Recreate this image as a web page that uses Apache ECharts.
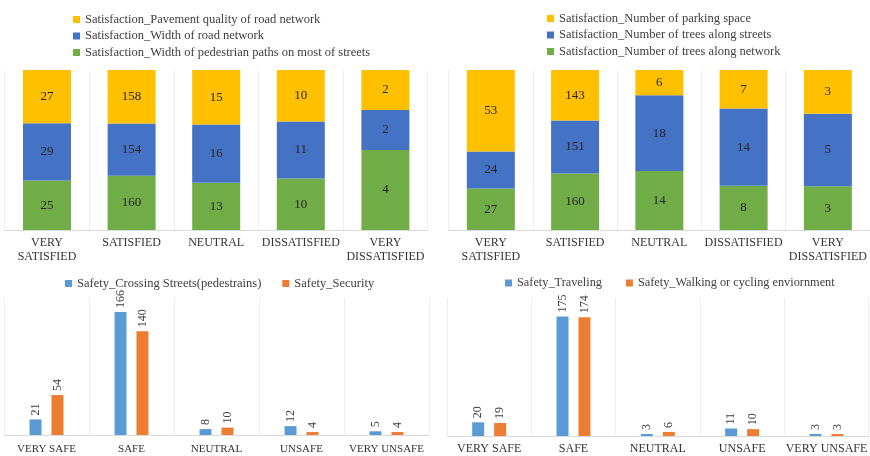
<!DOCTYPE html>
<html><head><meta charset="utf-8">
<script src="https://cdn.jsdelivr.net/npm/echarts@6/dist/echarts.min.js"></script>
<style>html,body{margin:0;padding:0;background:#fff}#c{width:870px;height:456px}</style>
</head><body><div id="c"></div>
<script>
const satCategories = ['VERY\nSATISFIED','SATISFIED','NEUTRAL','DISSATISFIED','VERY\nDISSATISFIED'];
const safeCategories = ['VERY SAFE','SAFE','NEUTRAL','UNSAFE','VERY UNSAFE'];
const pavementQuality = [27,158,15,10,2];
const roadWidth = [29,154,16,11,2];
const pedestrianWidth = [25,160,13,10,4];
const parkingSpace = [53,143,6,7,3];
const treesStreets = [24,151,18,14,5];
const treesNetwork = [27,160,14,8,3];
const crossingStreets = [21,166,8,12,5];
const security = [54,140,10,4,4];
const traveling = [20,175,3,11,3];
const walkingCycling = [19,174,6,10,3];

const FONT = "'Liberation Serif','Times New Roman',serif";
const YEL = '#FFC000', BLU = '#4472C4', GRN = '#70AD47', LBLU = '#5B9BD5', ORG = '#ED7D31';

function pct(arr, group) {
  return arr.map((v, i) => {
    const tot = group.reduce((s, g) => s + g[i], 0);
    return { value: v / tot * 100, raw: v };
  });
}
function stackSeries(name, arr, group, color, idx, stack) {
  return {
    name, type: 'bar', stack, xAxisIndex: idx, yAxisIndex: idx,
    data: pct(arr, group), barWidth: 48, itemStyle: { color },
    label: { show: true, position: 'inside', color: '#262626', fontFamily: FONT, fontSize: 13,
      formatter: p => p.data.raw }
  };
}
function barSeries(name, arr, color, idx) {
  return {
    name, type: 'bar', xAxisIndex: idx, yAxisIndex: idx, data: arr,
    barWidth: 12, barGap: '83%', itemStyle: { color },
    label: { show: true, position: 'top', rotate: 90, align: 'left', verticalAlign: 'middle',
      distance: 4, color: '#404040', fontFamily: FONT, fontSize: 12 }
  };
}
function xAx(idx, data, margin, fs) {
  return {
    type: 'category', gridIndex: idx, data,
    axisTick: { show: false },
    axisLine: { lineStyle: { color: '#d9d9d9' } },
    splitLine: { show: true, lineStyle: { color: '#eeeeee' } },
    axisLabel: { interval: 0, fontFamily: FONT, fontSize: fs, color: '#333333', lineHeight: 14, margin }
  };
}
function yAx(idx, max) {
  return { type: 'value', gridIndex: idx, min: 0, max, show: false, splitLine: { show: false } };
}
const g1 = [pedestrianWidth, roadWidth, pavementQuality];
const g2 = [treesNetwork, treesStreets, parkingSpace];
const legText = { fontFamily: FONT, fontSize: 12.5, color: '#404040' };
const legText2 = { fontFamily: FONT, fontSize: 12.3, color: '#404040' };

const option = {
  animation: false,
  backgroundColor: '#fff',
  grid: [
    { left: 4.7, top: 70, width: 423, height: 160 },
    { left: 448.7, top: 70, width: 423, height: 160 },
    { left: 4, top: 298, width: 425, height: 137.5 },
    { left: 447, top: 298, width: 425, height: 141 }
  ],
  xAxis: [xAx(0, satCategories, 6, 12), xAx(1, satCategories, 6, 12), xAx(2, safeCategories, 7, 11), xAx(3, safeCategories, 6, 12)],
  yAxis: [yAx(0, 100), yAx(1, 100), yAx(2, 185), yAx(3, 202)],
  legend: [
    { orient: 'vertical', left: 68, top: 8, itemWidth: 7, itemHeight: 7, itemGap: 3.5, icon: 'rect', textStyle: legText,
      data: ['Satisfaction_Pavement quality of road network', 'Satisfaction_Width of road network', 'Satisfaction_Width of pedestrian paths on most of streets'] },
    { orient: 'vertical', left: 542, top: 7, itemWidth: 7, itemHeight: 7, itemGap: 3.5, icon: 'rect', textStyle: legText,
      data: ['Satisfaction_Number of parking space', 'Satisfaction_Number of trees along streets', 'Satisfaction_Number of trees along network'] },
    { orient: 'horizontal', left: 60, top: 272, itemWidth: 7, itemHeight: 7, itemGap: 21, icon: 'rect', textStyle: legText,
      data: ['Safety_Crossing Streets(pedestrains)', 'Safety_Security'] },
    { orient: 'horizontal', left: 500, top: 272, itemWidth: 7, itemHeight: 7, itemGap: 24, icon: 'rect', textStyle: legText2,
      data: ['Safety_Traveling', 'Safety_Walking or cycling enviornment'] }
  ],
  series: [
    stackSeries('Satisfaction_Width of pedestrian paths on most of streets', pedestrianWidth, g1, GRN, 0, 's1'),
    stackSeries('Satisfaction_Width of road network', roadWidth, g1, BLU, 0, 's1'),
    stackSeries('Satisfaction_Pavement quality of road network', pavementQuality, g1, YEL, 0, 's1'),
    stackSeries('Satisfaction_Number of trees along network', treesNetwork, g2, GRN, 1, 's2'),
    stackSeries('Satisfaction_Number of trees along streets', treesStreets, g2, BLU, 1, 's2'),
    stackSeries('Satisfaction_Number of parking space', parkingSpace, g2, YEL, 1, 's2'),
    barSeries('Safety_Crossing Streets(pedestrains)', crossingStreets, LBLU, 2),
    barSeries('Safety_Security', security, ORG, 2),
    barSeries('Safety_Traveling', traveling, LBLU, 3),
    barSeries('Safety_Walking or cycling enviornment', walkingCycling, ORG, 3)
  ]
};
const chart = echarts.init(document.getElementById('c'), null, { renderer: 'canvas' });
chart.setOption(option);
</script></body></html>
